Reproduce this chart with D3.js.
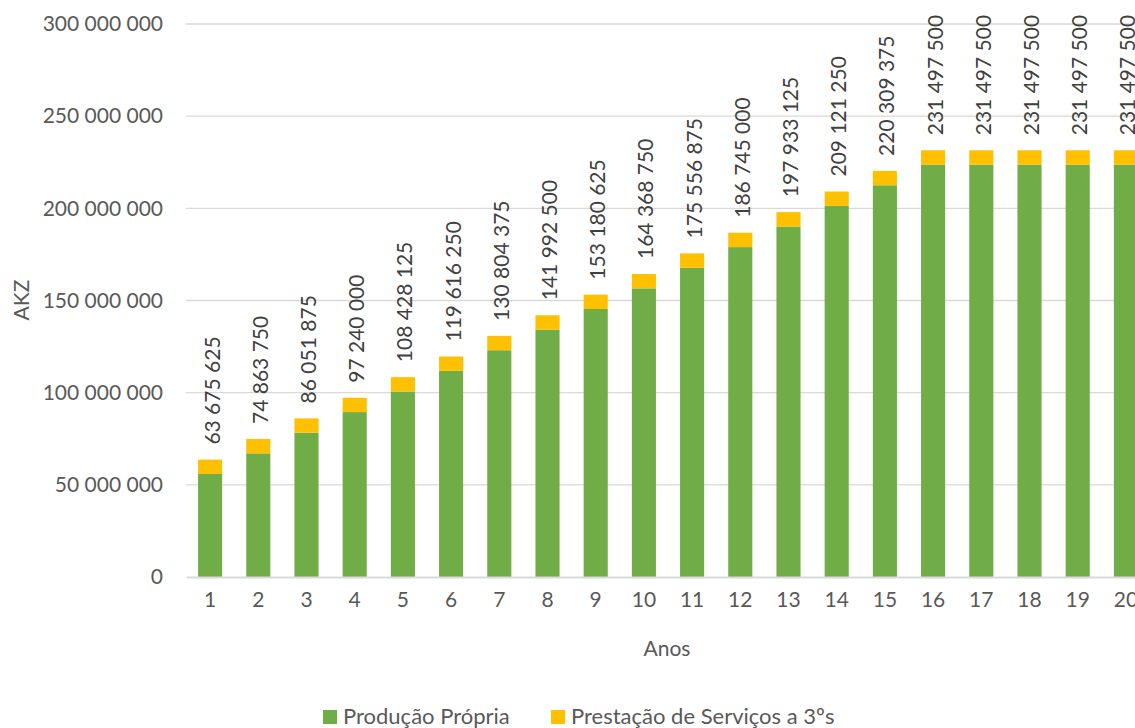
<!DOCTYPE html>
<html>
<head>
<meta charset="utf-8">
<script src="https://cdn.jsdelivr.net/npm/d3@7/dist/d3.min.js"></script>
<style>
  html, body { margin: 0; padding: 0; background: #fff; overflow: hidden; }
  svg { display: block; font-family: Lato, "Open Sans", sans-serif; }
</style>
</head>
<body>
<svg id="chart" width="1135" height="728"></svg>
<script>
// Years of operation
const anos = [1, 2, 3, 4, 5, 6, 7, 8, 9, 10, 11, 12, 13, 14, 15, 16, 17, 18, 19, 20];

// Own production revenue (AKZ)
const producaoPropria = [
  55895625, 67083750, 78271875, 89460000, 100648125,
  111836250, 123024375, 134212500, 145400625, 156588750,
  167776875, 178965000, 190153125, 201341250, 212529375,
  223717500, 223717500, 223717500, 223717500, 223717500
];

// Third-party services revenue (AKZ)
const prestacaoServicos = [
  7780000, 7780000, 7780000, 7780000, 7780000,
  7780000, 7780000, 7780000, 7780000, 7780000,
  7780000, 7780000, 7780000, 7780000, 7780000,
  7780000, 7780000, 7780000, 7780000, 7780000
];

const yTicks = [0, 50000000, 100000000, 150000000, 200000000, 250000000, 300000000];

const seriesNames = ["Produção Própria", "Prestação de Serviços a 3ºs"];
const seriesColors = ["#70AD47", "#FFC000"];

const rows = anos.map((a, i) => ({
  ano: a,
  producao: producaoPropria[i],
  servicos: prestacaoServicos[i]
}));

const svg = d3.select("#chart");
const textColor = "#595959";
const gridColor = "#D9D9D9";

const plot = { left: 186, right: 1150, top: 24, bottom: 577 };

const x = d3.scaleBand()
  .domain(anos)
  .range([plot.left, plot.right])
  .paddingInner(0.5)
  .paddingOuter(0.25);

const y = d3.scaleLinear()
  .domain([0, 300000000])
  .range([plot.bottom, plot.top]);

const fmt = v => d3.format(",")(v).replace(/,/g, " ");

// gridlines
svg.append("g")
  .selectAll("line")
  .data(yTicks.filter(t => t > 0))
  .join("line")
  .attr("x1", plot.left).attr("x2", plot.right)
  .attr("y1", d => y(d)).attr("y2", d => y(d))
  .attr("stroke", gridColor).attr("stroke-width", 1.3);

// y axis labels
const yAxis = svg.append("g")
  .attr("transform", `translate(${plot.left},0)`)
  .call(d3.axisLeft(y).tickValues(yTicks).tickFormat(fmt).tickSize(0).tickPadding(23));
yAxis.select(".domain").remove();
yAxis.selectAll("text")
  .attr("fill", textColor)
  .style("font-size", "21px")
  .style("font-family", "Lato, 'Open Sans', sans-serif");

// stacked bars
const stack = d3.stack().keys(["producao", "servicos"]);
const stacked = stack(rows);

svg.append("g")
  .selectAll("g")
  .data(stacked)
  .join("g")
  .attr("fill", (d, i) => seriesColors[i])
  .selectAll("rect")
  .data(d => d)
  .join("rect")
  .attr("x", d => x(d.data.ano))
  .attr("width", x.bandwidth())
  .attr("y", d => y(d[1]))
  .attr("height", d => y(d[0]) - y(d[1]));

// x axis
const xAxis = svg.append("g")
  .attr("transform", `translate(0,${plot.bottom})`)
  .call(d3.axisBottom(x).tickSize(0).tickPadding(15));
xAxis.select(".domain")
  .attr("stroke", gridColor).attr("stroke-width", 2);
xAxis.selectAll("text")
  .attr("fill", textColor)
  .style("font-size", "21px")
  .style("font-family", "Lato, 'Open Sans', sans-serif");

// total labels above each bar
svg.append("g")
  .selectAll("text")
  .data(rows)
  .join("text")
  .attr("transform", d => {
    const cx = x(d.ano) + x.bandwidth() / 2 + 1;
    const cy = y(d.producao + d.servicos) - 15;
    return `translate(${cx},${cy}) rotate(-90)`;
  })
  .attr("text-anchor", "start")
  .attr("dominant-baseline", "central")
  .attr("fill", "#404040")
  .style("font-size", "21px")
  .text(d => fmt(d.producao + d.servicos));

// axis titles
svg.append("text")
  .attr("x", 667).attr("y", 656)
  .attr("text-anchor", "middle")
  .attr("fill", textColor)
  .style("font-size", "21px")
  .text("Anos");

svg.append("text")
  .attr("transform", "translate(29,300) rotate(-90)")
  .attr("text-anchor", "middle")
  .attr("fill", textColor)
  .style("font-size", "21px")
  .text("AKZ");

// legend
const legend = svg.append("g");
const legendX = [323, 551];
seriesNames.forEach((name, i) => {
  legend.append("rect")
    .attr("x", legendX[i]).attr("y", 710)
    .attr("width", 14).attr("height", 14)
    .attr("fill", seriesColors[i]);
  legend.append("text")
    .attr("x", legendX[i] + 20).attr("y", 724)
    .attr("fill", textColor)
    .style("font-size", "22px")
    .text(name);
});
</script>
</body>
</html>
